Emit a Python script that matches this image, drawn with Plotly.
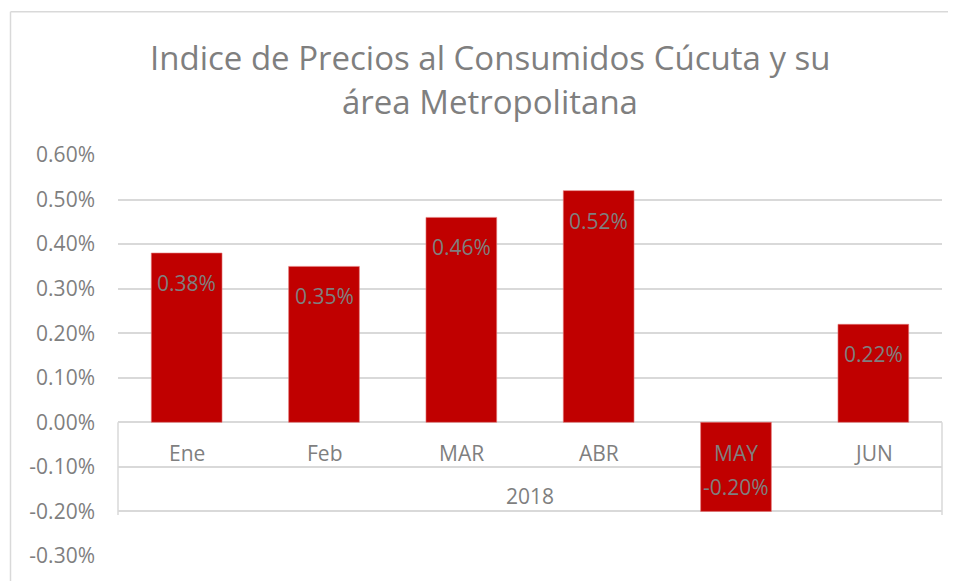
import plotly.graph_objects as go

months = ["Ene", "Feb", "MAR", "ABR", "MAY", "JUN"]
values = [0.38, 0.35, 0.46, 0.52, -0.20, 0.22]  # percent
year_label = "2018"
title_lines = ["Indice de Precios al Consumidos Cúcuta y su", "área Metropolitana"]
tick_vals = [-0.3, -0.2, -0.1, 0.0, 0.1, 0.2, 0.3, 0.4, 0.5, 0.6]
tick_text = ["%.2f%%" % v for v in tick_vals]

GREY = "#7F7F7F"
GRID = "#D9D9D9"
FONT = "Open Sans"

# page body has an 8px margin; work in page pixels and subtract it
OX, OY = 8, 8
W, H = 956 - OX, 581 - OY
L, R, T, B = 118 - OX, 14, 155 - OY, 23
pw = W - L - R
ph = H - T - B


def px_to_paper_x(px):
    return (px - OX - L) / pw


def px_to_paper_y(py):
    return (H - B - (py - OY)) / ph


fig = go.Figure()
fig.add_trace(go.Bar(
    x=months, y=values, width=0.515,
    marker=dict(color="#C00000", line=dict(color="#E47A7A", width=0.6)),
    hoverinfo="skip",
))

ann = []
for m, v in zip(months, values):
    ann.append(dict(x=m, y=v, xref="x", yref="y", text="%.2f%%" % v,
                    showarrow=False, yshift=(-30 if v >= 0 else 24),
                    font=dict(family=FONT, size=21, color=GREY)))
    ann.append(dict(x=m, y=0, xref="x", yref="y", text=m, showarrow=False,
                    yshift=-31, font=dict(family=FONT, size=21, color=GREY)))
ann.append(dict(x=0.5, y=0, xref="paper", yref="y", text=year_label,
                showarrow=False, yshift=-74,
                font=dict(family=FONT, size=21, color=GREY)))
for line, yc in zip(title_lines, [57, 101]):
    ann.append(dict(x=px_to_paper_x(490), y=px_to_paper_y(yc), xref="paper", yref="paper",
                    text=line, showarrow=False, xanchor="center", yanchor="middle",
                    font=dict(family=FONT, size=33, color=GREY)))

shapes = [
    dict(type="line", xref="paper", yref="y", x0=0, x1=0, y0=0, y1=-0.208,
         line=dict(color=GRID, width=1.5), layer="below"),
    dict(type="line", xref="paper", yref="y", x0=1, x1=1, y0=0, y1=-0.208,
         line=dict(color=GRID, width=1.5), layer="below"),
    dict(type="line", xref="paper", yref="paper", x0=px_to_paper_x(10.5), x1=px_to_paper_x(10.5),
         y0=-0.2, y1=px_to_paper_y(11), line=dict(color=GRID, width=1.5)),
    dict(type="line", xref="paper", yref="paper", x0=px_to_paper_x(10.5), x1=px_to_paper_x(970),
         y0=px_to_paper_y(11), y1=px_to_paper_y(11), line=dict(color=GRID, width=1.5)),
]

fig.update_layout(
    width=W, height=H,
    margin=dict(l=L, r=R, t=T, b=B, pad=0),
    paper_bgcolor="white", plot_bgcolor="white",
    showlegend=False,
    annotations=ann, shapes=shapes,
    xaxis=dict(showticklabels=False, showgrid=False, zeroline=False,
               showline=False, ticks=""),
    yaxis=dict(range=[-0.3, 0.6], tickvals=tick_vals, ticktext=tick_text,
               showgrid=True, gridcolor=GRID, gridwidth=1.5,
               zeroline=True, zerolinecolor=GRID, zerolinewidth=1.5,
               showline=False, ticks="", ticklabelstandoff=22,
               tickfont=dict(family=FONT, size=21, color=GREY)),
    bargap=0.485,
)

fig.write_html("out.html")
